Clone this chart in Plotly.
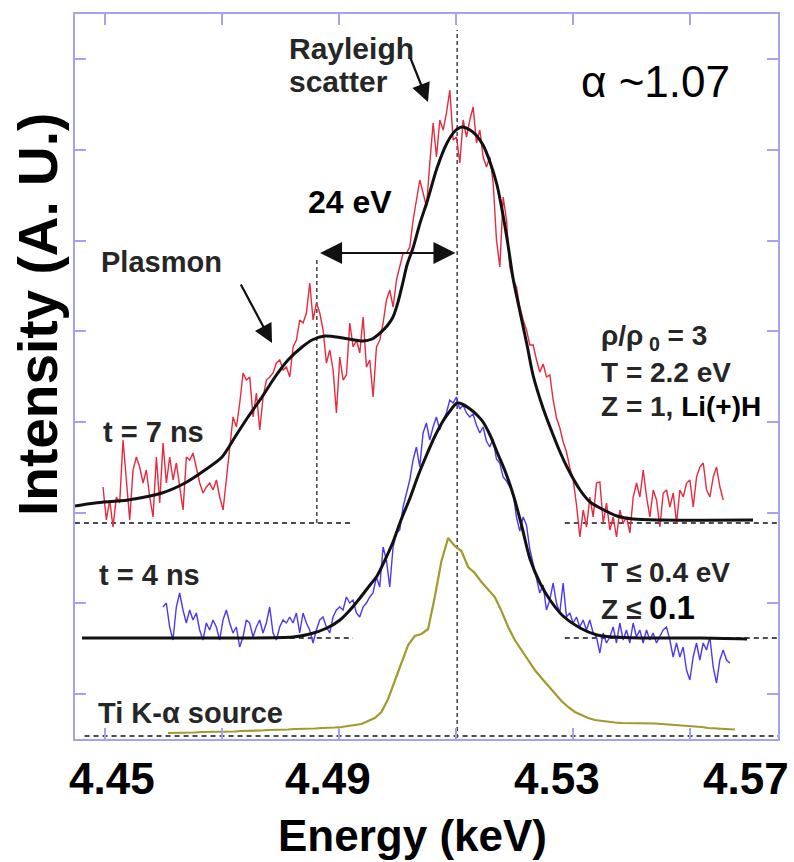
import plotly.graph_objects as go

# ---------------------------------------------------------------------------
# Energy axis (keV) and plot geometry
# ---------------------------------------------------------------------------
E_MIN, E_MAX = 4.44487, 4.56504
I_MIN, I_MAX = 0.0, 725.0

# ---------------------------------------------------------------------------
# Measured spectra on uniform energy grids (intensity in arbitrary units)
# ---------------------------------------------------------------------------
SPEC_STEP = 0.00057          # keV per channel

T7_E0 = 4.44966              # t = 7 ns, first channel energy
T7_COUNTS = [
    252, 219, 239, 212, 242, 236, 299, 262, 219, 269,
    282, 272, 256, 269, 242, 222, 282, 236, 296, 256,
    282, 259, 276, 252, 229, 282, 279, 286, 272, 256,
    246, 252, 256, 249, 259, 242, 229, 262, 296, 322,
    312, 336, 366, 359, 362, 322, 346, 309, 342, 359,
    362, 366, 376, 379, 369, 372, 362, 392, 399, 419,
    416, 426, 456, 419, 436, 426, 409, 376, 389, 369,
    326, 382, 359, 364, 416, 392, 399, 386, 422, 372,
    379, 342, 392, 399, 416, 439, 449, 432, 459, 472,
    486, 486, 492, 519, 539, 559, 546, 532, 576, 616,
    582, 619, 609, 626, 649, 599, 602, 576, 619, 602,
    619, 632, 596, 609, 582, 572, 582, 556, 499, 472,
    542, 519, 472, 459, 452, 432, 419, 409, 394, 394,
    379, 367, 375, 362, 364, 339, 321, 311, 297, 287,
    271, 259, 234, 202, 229, 212, 242, 222, 256, 257,
    216, 236, 209, 222, 202, 229, 216, 222, 206, 242,
    256, 242, 269, 242, 222, 249, 239, 212, 246, 249,
    232, 246, 216, 249, 242, 256, 259, 232, 262, 272,
    276, 249, 242, 262, 272, 252, 239,
]

T4_E0 = 4.45991              # t = 4 ns, first channel energy
T4_COUNTS = [
    132, 136, 112, 99, 132, 146, 129, 116, 129, 119,
    126, 109, 99, 116, 109, 119, 112, 99, 119, 129,
    116, 106, 112, 92, 102, 119, 116, 102, 112, 119,
    106, 116, 132, 106, 99, 112, 119, 116, 122, 116,
    126, 106, 126, 116, 109, 96, 109, 119, 122, 112,
    106, 122, 129, 132, 129, 142, 136, 139, 126, 122,
    132, 136, 142, 146, 162, 152, 192, 179, 152, 192,
    206, 209, 232, 246, 259, 279, 292, 272, 306, 316,
    299, 312, 322, 309, 319, 326, 339, 336, 342, 330,
    334, 326, 322, 325, 314, 306, 312, 298, 292, 300,
    280, 276, 262, 258, 252, 246, 222, 208, 222, 214,
    190, 176, 160, 146, 154, 129, 139, 156, 136, 126,
    156, 122, 126, 116, 122, 112, 119, 109, 119, 106,
    102, 86, 106, 96, 102, 112, 96, 116, 99, 109,
    96, 116, 102, 109, 96, 109, 99, 106, 96, 102,
    109, 112, 99, 82, 96, 82, 92, 69, 59, 82,
    96, 79, 96, 89, 102, 72, 56, 79, 89, 79, 76,
]

TI_E0 = 4.46077              # Ti K-alpha source spectrum
TI_STEP = 0.00114
TI_COUNTS = [
    6, 6, 6, 6.5, 6.5, 7, 7, 7, 7, 7.5,
    7.5, 8, 8, 8.5, 8.5, 9, 9, 9.5, 9.5, 10,
    10, 10.5, 10.5, 11, 11, 11.5, 12, 13, 14, 15,
    18, 21, 27, 40, 58, 76, 94, 103, 105, 110,
    142, 178, 201, 193, 188, 172, 166, 157, 150, 142,
    128, 112, 99, 89, 78, 69, 61, 53, 46, 38,
    32, 27, 24, 21, 19, 18, 17, 16.5, 16, 16,
    15.5, 15.5, 16, 15.5, 15, 14.5, 14, 14, 13.5, 12.5,
    12, 11, 10.5, 10, 10, 9.5,
]

# ---------------------------------------------------------------------------
# Theoretical fits
# ---------------------------------------------------------------------------
FIT_T7_E = [
    4.44487, 4.44829, 4.45393, 4.45974, 4.46368, 4.46709, 4.47000, 4.47222,
    4.47444, 4.47684, 4.47906, 4.48128, 4.48368, 4.48538, 4.48761, 4.49068,
    4.49410, 4.49564, 4.49701, 4.49821, 4.49923, 4.50009, 4.50094, 4.50162,
    4.50265, 4.50385, 4.50504, 4.50675, 4.50846, 4.50983, 4.51103, 4.51239,
    4.51342, 4.51462, 4.51581, 4.51701, 4.51803, 4.51889, 4.51974, 4.52094,
    4.52214, 4.52316, 4.52487, 4.52607, 4.52778, 4.52897, 4.53120, 4.53291,
    4.53462, 4.53752, 4.54026, 4.54487, 4.56077,
]
FIT_T7_I = [
    233, 236, 239, 246, 256, 269, 282, 302,
    322, 342, 362, 379, 392, 399, 403, 401,
    398, 400, 406, 413, 422, 437, 457, 474,
    491, 516, 537, 571, 596, 608, 612, 609,
    604, 594, 577, 554, 524, 494, 461, 427,
    394, 364, 331, 312, 287, 272, 249, 237,
    231, 223, 220, 219, 219,
]

FIT_T4_E = [
    4.44607, 4.46624, 4.48214, 4.48504, 4.48795, 4.49017, 4.49188, 4.49359,
    4.49530, 4.49650, 4.49786, 4.49923, 4.50060, 4.50214, 4.50350, 4.50504,
    4.50641, 4.50778, 4.50897, 4.51017, 4.51103, 4.51239, 4.51359, 4.51462,
    4.51581, 4.51701, 4.51838, 4.51974, 4.52111, 4.52265, 4.52436, 4.52607,
    4.52829, 4.53120, 4.53410, 4.53684, 4.54145, 4.55171, 4.55974,
]
FIT_T4_I = [
    101, 101, 102, 105, 111, 119, 129, 141,
    154, 163, 179, 197, 219, 241, 263, 285,
    303, 318, 328, 336, 335, 330, 324, 317,
    304, 287, 268, 245, 216, 180, 156, 139,
    123, 111, 104, 102, 101, 101, 100,
]

# Spectrum baselines and reference energies
BASE_T7, BASE_T4, BASE_TI = 216, 101, 3
RAYLEIGH_E = 4.5102          # keV
PLASMON_SHIFT = 0.024        # keV (24 eV)
ARROW_LEVEL = 486

TICK_VALUES = [4.45, 4.47, 4.49, 4.51, 4.53, 4.55]
TICK_LABELS = ["4.45", "4.49", "4.53", "4.57"]

# ---------------------------------------------------------------------------
# Styling
# ---------------------------------------------------------------------------
FRAME = "#a3a3f2"
DASH = "#4d4d4d"
TEXT = "#262626"
FONT = "Liberation Sans, Arial, Helvetica, sans-serif"

W, H = 794, 862
ML, MR, MT, MB = 75, 16, 14, 123
PW, PH = W - ML - MR, H - MT - MB


def px(xp):
    """Horizontal page pixel -> paper fraction."""
    return (xp - ML) / PW


def py(yp):
    """Vertical page pixel -> paper fraction."""
    return (H - MB - yp) / PH


def grid(e0, step, n):
    return [e0 + step * k for k in range(n)]


fig = go.Figure()

# dashed baselines and guide lines
segments = [
    (E_MIN, 4.4924, BASE_T7), (4.5286, E_MAX + 0.0004, BASE_T7),
    (4.4462, 4.4924, BASE_T4), (4.5286, E_MAX + 0.0004, BASE_T4),
    (4.4465, E_MAX + 0.0004, BASE_TI),
]
for x0, x1, yb in segments:
    fig.add_shape(type="line", xref="x", yref="y", x0=x0, x1=x1, y0=yb, y1=yb,
                  line=dict(color=DASH, width=1.8, dash="5px,4px"), layer="below")

fig.add_shape(type="line", xref="x", yref="y", x0=RAYLEIGH_E, x1=RAYLEIGH_E,
              y0=-6, y1=709, line=dict(color=DASH, width=1.6, dash="4px,3px"),
              layer="below")
fig.add_shape(type="line", xref="x", yref="y",
              x0=RAYLEIGH_E - PLASMON_SHIFT, x1=RAYLEIGH_E - PLASMON_SHIFT,
              y0=BASE_T7, y1=ARROW_LEVEL - 4,
              line=dict(color=DASH, width=1.6, dash="4px,3px"), layer="below")

# measured spectra
fig.add_trace(go.Scatter(x=grid(TI_E0, TI_STEP, len(TI_COUNTS)), y=TI_COUNTS,
                         mode="lines", line=dict(color="#a29a2e", width=2.2),
                         hoverinfo="skip"))
fig.add_trace(go.Scatter(x=grid(T7_E0, SPEC_STEP, len(T7_COUNTS)), y=T7_COUNTS,
                         mode="lines", line=dict(color="#e8293f", width=1.4),
                         hoverinfo="skip"))
fig.add_trace(go.Scatter(x=grid(T4_E0, SPEC_STEP, len(T4_COUNTS)), y=T4_COUNTS,
                         mode="lines", line=dict(color="#4b39f2", width=1.4),
                         hoverinfo="skip"))

# fits
for fe, fi in [(FIT_T7_E, FIT_T7_I), (FIT_T4_E, FIT_T4_I)]:
    fig.add_trace(go.Scatter(x=fe, y=fi, mode="lines",
                             line=dict(color="#111111", width=3, shape="spline",
                                       smoothing=0.8),
                             hoverinfo="skip"))

annotations = []


def label(text, xp, yp, size, color=TEXT, bold=True, anchor="left"):
    t = f"<b>{text}</b>" if bold else text
    annotations.append(dict(text=t, xref="paper", yref="paper", x=px(xp), y=py(yp),
                            xanchor=anchor, yanchor="middle", showarrow=False,
                            font=dict(family=FONT, size=size, color=color)))


label("Rayleigh", 287, 49, 30)
label("scatter", 287, 81, 30)
label("Plasmon", 99, 262, 29)
label("24 eV", 306, 202, 32, color="#000")
label("\u03b1 ~1.07", 579, 82, 44, color="#000", bold=False)
label("\u03c1/\u03c1<sub> 0</sub> = 3", 599, 337, 28)
label("T = 2.2 eV", 599, 372, 28)
label("Z = 1, <span style='color:#000'>Li(+)H</span>", 599, 406, 28)
label("T \u2264 0.4 eV", 599, 572, 28)
label("Z \u2264 <span style='color:#000;font-size:33px'>0.1</span>", 599, 607, 28)
label("t = 7 ns", 101, 432, 29)
label("t = 4 ns", 97, 575, 29)
label("Ti K-\u03b1 source", 96, 713, 29)

# energy tick labels
for txt, xp in zip(TICK_LABELS, [112, 328, 557, 746]):
    label(txt, xp, 778, 44, color="#000", anchor="center")

# axis titles
label("Energy (keV)", 412, 836, 44, color="#000", anchor="center")
annotations.append(dict(text="<b>Intensity (A. U.)</b>", xref="paper", yref="paper",
                        x=px(38), y=py(315), xanchor="center", yanchor="middle",
                        textangle=-90, showarrow=False,
                        font=dict(family=FONT, size=55, color="#000")))

# arrows
arrow_common = dict(xref="x", yref="y", axref="x", ayref="y", text="",
                    showarrow=True, arrowcolor="#111111", standoff=0)
annotations.append(dict(x=RAYLEIGH_E - 0.0003, y=ARROW_LEVEL,
                        ax=RAYLEIGH_E - PLASMON_SHIFT + 0.0003, ay=ARROW_LEVEL,
                        arrowhead=2, startarrowhead=2, arrowside="end+start",
                        arrowsize=2.0, startarrowsize=2.0, arrowwidth=2.2,
                        startstandoff=0, **arrow_common))
annotations.append(dict(x=4.50521, y=637, ax=4.50214, ay=682,
                        arrowhead=2, arrowsize=1.7, arrowwidth=2.2, **arrow_common))
annotations.append(dict(x=4.47855, y=396, ax=4.47308, ay=456,
                        arrowhead=2, arrowsize=1.7, arrowwidth=2.2, **arrow_common))

axis_common = dict(showgrid=False, zeroline=False, showline=True, linecolor=FRAME,
                   linewidth=1.6, mirror="ticks", ticks="inside", ticklen=11,
                   tickwidth=1.6, tickcolor=FRAME, showticklabels=False)

fig.update_layout(
    width=W, height=H,
    margin=dict(l=ML, r=MR, t=MT, b=MB),
    paper_bgcolor="white", plot_bgcolor="white",
    showlegend=False,
    xaxis=dict(range=[E_MIN, E_MAX], tickvals=TICK_VALUES, **axis_common),
    yaxis=dict(range=[I_MIN, I_MAX], tick0=45, dtick=90.7, **axis_common),
    annotations=annotations,
)

fig.write_html("out.html")
